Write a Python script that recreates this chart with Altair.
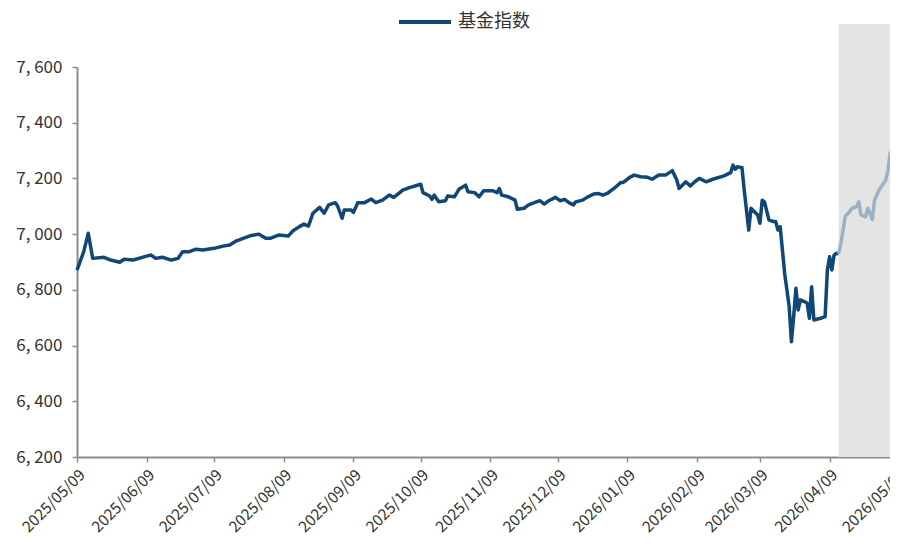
import altair as alt
import pandas as pd

# ---- data ----
start_date = "2025-05-09"
# day offsets from 2025-05-09 and index values
day_offsets = [
    0, 3, 5, 7, 12, 15, 19, 21, 25, 31, 33, 35, 38, 42, 45, 47, 50, 53, 56, 61,
    65, 68, 71, 74, 77, 81, 84, 86, 90, 94, 96, 99, 101, 103, 104, 105, 108, 110,
    112, 115, 116, 118, 119, 122, 123, 125, 128, 131, 133, 136, 139, 141, 145,
    148, 153, 154, 157, 158, 159, 161, 164, 165, 168, 170, 173, 174, 177, 179,
    181, 185, 187, 188, 189, 192, 195, 196, 199, 201, 203, 206, 208, 210, 213,
    215, 217, 219, 221, 222, 225, 227, 230, 232, 234, 236, 239, 242, 243, 245,
    246, 248, 251, 254, 256, 259, 262, 265, 267, 268, 271, 273, 275, 277, 280,
    283, 288, 291, 292, 293, 294, 295, 296, 297, 299, 300, 303, 304, 305, 306,
    308, 310, 311, 312, 313, 315, 317, 318, 319, 320, 321, 322, 324, 325, 326,
    327, 328, 331, 333, 334, 335, 336, 337, 338, 339,
]
values = [
    6871, 6937, 7003, 6913, 6917, 6907, 6899, 6910, 6907, 6921, 6925, 6913, 6917,
    6907, 6913, 6937, 6937, 6946, 6943, 6949, 6957, 6961, 6976, 6985, 6994, 7000,
    6985, 6985, 6997, 6993, 7011, 7027, 7036, 7029, 7051, 7075, 7096, 7075, 7105,
    7113, 7101, 7057, 7087, 7087, 7078, 7113, 7113, 7126, 7113, 7122, 7140, 7132,
    7158, 7167, 7179, 7149, 7137, 7125, 7140, 7116, 7120, 7137, 7134, 7161, 7176,
    7152, 7149, 7134, 7156, 7156, 7149, 7164, 7140, 7134, 7122, 7089, 7093, 7105,
    7111, 7120, 7108, 7120, 7132, 7120, 7125, 7113, 7105, 7116, 7122, 7132, 7144,
    7146, 7140, 7146, 7164, 7185, 7185, 7197, 7204, 7212, 7206, 7204, 7197, 7212,
    7212, 7228, 7194, 7164, 7188, 7173, 7188, 7200, 7188, 7197, 7209, 7221, 7248,
    7233, 7242, 7240, 7239, 7158, 7015, 7093, 7069, 7039, 7122, 7116, 7051, 7045,
    7045, 7015, 7027, 6859, 6740, 6614, 6704, 6806, 6728, 6764, 6757, 6752, 6698,
    6811, 6692, 6698, 6704, 6871, 6919, 6871, 6925, 6931, 6929,
]
# lighter segment inside the shaded window
day_offsets_2 = [339, 340, 341, 342, 343, 345, 347, 348, 349, 351, 352, 354,
                 355, 357, 360, 361, 362, 363, 364, 365, 366]
values_2 = [6929, 6967, 7015, 7065, 7072, 7093, 7099, 7116, 7069, 7062, 7093,
            7053, 7122, 7158, 7194, 7230, 7292, 7278, 7314, 7350, 7362]

series_names = ["基金指数", "预测区间"]
band_start = "2026-04-13"
band_end = "2026-05-12"
band_low = 6200
band_high = 7754

y_ticks = [6200, 6400, 6600, 6800, 7000, 7200, 7400, 7600]
x_tick_months = [(2025, m) for m in range(5, 13)] + [(2026, m) for m in range(1, 6)]

# ---- build tables ----
t0 = pd.Timestamp(start_date)
df1 = pd.DataFrame({"date": t0 + pd.to_timedelta(day_offsets, unit="D"),
                    "value": values, "series": series_names[0]})
df2 = pd.DataFrame({"date": t0 + pd.to_timedelta(day_offsets_2, unit="D"),
                    "value": values_2, "series": series_names[1]})
df = pd.concat([df1, df2], ignore_index=True)
band = pd.DataFrame({"x": [pd.Timestamp(band_start)], "x2": [pd.Timestamp(band_end)],
                     "y": [band_low], "y2": [band_high]})

FONT = "Noto Sans CJK SC"
DARK = "#0f4777"
LIGHT = "#9db0c5"
AXIS_GREY = "#8c8c8c"

x_scale = alt.Scale(domain=[alt.DateTime(year=2025, month=5, date=9),
                            alt.DateTime(year=2026, month=5, date=9)])
y_scale = alt.Scale(domain=[6200, 7600], nice=False, zero=False)

rect = alt.Chart(band).mark_rect(color="#e4e4e4", clip=False).encode(
    x=alt.X("x:T", scale=x_scale),
    x2="x2:T",
    y=alt.Y("y:Q", scale=y_scale),
    y2="y2:Q",
)

line = alt.Chart(df).mark_line(strokeWidth=3.5, strokeJoin="round").encode(
    x=alt.X("date:T", scale=x_scale, title=None,
            axis=alt.Axis(values=[alt.DateTime(year=y, month=m, date=9) for y, m in x_tick_months],
                          format="%Y/%m/%d", labelAngle=-45, labelFontSize=15.5,
                          labelFont=FONT, labelColor="#333333", labelPadding=5,
                          labelOverlap=False, labelBound=False, labelFlush=False,
                          tickSize=5, tickColor=AXIS_GREY, domainColor=AXIS_GREY,
                          domainWidth=2, tickWidth=1.5, grid=False)),
    y=alt.Y("value:Q", scale=y_scale, title=None,
            axis=alt.Axis(values=y_ticks,
                          labelExpr="replace(format(datum.value, ','), ',', ', ')",
                          labelFontSize=17, labelFont=FONT, labelColor="#333333",
                          labelPadding=10, tickSize=5, tickColor=AXIS_GREY,
                          domainColor=AXIS_GREY, domainWidth=2, tickWidth=1.5,
                          grid=False)),
    color=alt.Color("series:N",
                    scale=alt.Scale(domain=series_names, range=[DARK, LIGHT]),
                    legend=alt.Legend(values=[series_names[0]], title=None,
                                      orient="none", legendX=320, legendY=-73,
                                      symbolType="stroke", symbolSize=2704,
                                      symbolStrokeWidth=4, labelFontSize=18,
                                      labelFont=FONT, labelColor="#333333",
                                      labelOffset=5)),
)

chart = alt.layer(rect, line).properties(
    width=820, height=390,
    autosize=alt.AutoSizeParams(type="none"),
    padding={"left": 69, "top": 59, "right": -7, "bottom": 82},
).configure_view(stroke=None)

chart.save("out.html", embed_options={"renderer": "svg", "actions": False})
